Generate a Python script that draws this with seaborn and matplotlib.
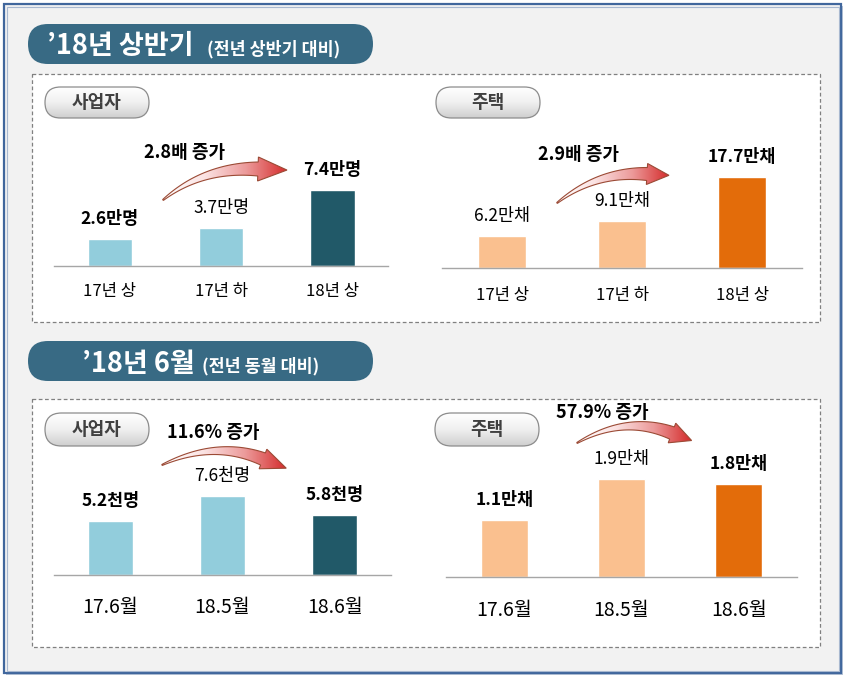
import numpy as np
import matplotlib
matplotlib.use("Agg")
import matplotlib.pyplot as plt
from matplotlib.patches import Rectangle, FancyBboxPatch, Polygon
from matplotlib.colors import LinearSegmentedColormap
import seaborn as sns

# ---------------- data ----------------
cats_half = ['17년 상', '17년 하', '18년 상']
biz_half = [2.6, 3.7, 7.4]
house_half = [6.2, 9.1, 17.7]

cats_month = ['17.6월', '18.5월', '18.6월']
biz_month = [5.2, 7.6, 5.8]
house_month = [1.1, 1.9, 1.8]

biz_half_unit = '만명'
house_half_unit = '만채'
biz_month_unit = '천명'
house_month_unit = '만채'

growth_texts = ['2.8배 증가', '2.9배 증가', '11.6% 증가', '57.9% 증가']
section_titles = ['’18년 상반기', '’18년 6월']
section_subtitles = ['(전년 상반기 대비)', '(전년 동월 대비)']
group_names = ['사업자', '주택']

# ---------------- style ----------------
sns.set_style('white')
FONT = ['Noto Sans CJK KR', 'DejaVu Sans']
plt.rcParams['font.family'] = FONT

LB, DB = '#92cddc', '#215968'
LO, DO = '#fac08f', '#e36c0a'

W, H = 847, 679
fig = plt.figure(figsize=(W / 100, H / 100), dpi=100)
fig.patch.set_facecolor('white')

def overlay(z):
    a = fig.add_axes([0, 0, 1, 1], zorder=z)
    a.set_xlim(0, W)
    a.set_ylim(H, 0)
    a.axis('off')
    a.patch.set_alpha(0)
    return a

bg = overlay(0)
fg = overlay(10)

# outer frame
bg.add_patch(Rectangle((6, 6), 837, 669, facecolor='#b9c6d8', edgecolor='none', zorder=0))
bg.add_patch(Rectangle((4, 4), 837, 669, facecolor='#f2f2f2', edgecolor='#41679d', lw=1.6, zorder=1))
bg.add_patch(Rectangle((6.5, 6.5), 832, 664, facecolor='none', edgecolor='#a9b9d0', lw=0.8, zorder=1))

# dashed boxes
for (y0, y1) in [(74, 322), (399, 647)]:
    bg.add_patch(Rectangle((32, y0), 788, y1 - y0, facecolor='white', edgecolor='#808080',
                           lw=0.9, linestyle=(0, (3, 2)), zorder=2))

# title pills
for (y0, t, s, tx, sx) in [(24, section_titles[0], section_subtitles[0], 47, 207),
                            (341, section_titles[1], section_subtitles[1], 82, 202)]:
    bg.add_patch(FancyBboxPatch((28, y0), 345, 40, boxstyle='round,pad=0,rounding_size=20',
                                facecolor='#386a84', edgecolor='none', zorder=3))
    bg.text(tx, y0 + 30.5, t, color='white', fontsize=19.5, fontweight='bold',
            ha='left', va='baseline', zorder=4)
    bg.text(sx, y0 + 30.5, s, color='white', fontsize=12.5, fontweight='bold',
            ha='left', va='baseline', zorder=4)

# group pills
pill_cmap = LinearSegmentedColormap.from_list('pill', ['#ffffff', '#f0f0f0', '#cfcfcf'])
for (x0, y0, h, name) in [(45, 87, 31, group_names[0]), (436, 87, 31, group_names[1]),
                          (45, 413, 33, group_names[0]), (435, 413, 33, group_names[1])]:
    p = FancyBboxPatch((x0, y0), 104, h, boxstyle=f'round,pad=0,rounding_size={h/2}',
                       facecolor='none', edgecolor='#8c8c8c', lw=0.9, zorder=4)
    bg.add_patch(p)
    im = bg.imshow(np.linspace(0, 1, 64)[:, None], cmap=pill_cmap, extent=(x0, x0 + 104, y0 + h, y0),
                   aspect='auto', zorder=3.5)
    im.set_clip_path(p)
    bg.text(x0 + 52, y0 + h / 2, name, color='#404040', fontsize=13, fontweight='bold',
            ha='center', va='center', zorder=5)
bg.set_xlim(0, W)
bg.set_ylim(H, 0)

# ---------------- charts ----------------
def chart(x0, x1, y_axis, y_top, ymax, cats, vals, unit, colors, bold, catsize, pad):
    ax = fig.add_axes([x0 / W, 1 - y_axis / H, (x1 - x0) / W, (y_axis - y_top) / H], zorder=5)
    ax.patch.set_alpha(0)
    sns.barplot(x=cats, y=vals, hue=cats, palette=colors, legend=False, width=0.4,
                saturation=1, ax=ax)
    ax.set_xlim(-0.5, 2.5)
    ax.set_ylim(0, ymax)
    ax.set_yticks([])
    ax.set_xlabel('')
    ax.set_ylabel('')
    for s in ['left', 'right', 'top']:
        ax.spines[s].set_visible(False)
    ax.spines['bottom'].set_color('#a6a6a6')
    ax.spines['bottom'].set_linewidth(1.0)
    ax.set_xticks(range(len(cats)))
    ax.set_xticklabels(cats)
    ax.set_xticks([-0.5, 0.5, 1.5, 2.5], minor=True)
    ax.tick_params(axis='x', which='major', length=0, pad=pad, labelsize=catsize, labelcolor='black')
    ax.tick_params(axis='x', which='minor', length=4.8, width=0.9, color='#a6a6a6', direction='out')
    for i, (v, b) in enumerate(zip(vals, bold)):
        ax.annotate(f'{v}{unit}', xy=(i, v), xytext=(0, 14.4), textcoords='offset points',
                    ha='center', va='center', fontsize=12.5,
                    fontweight='bold' if b else 'normal', color='black')
    return ax

chart(54.3, 388, 266, 140, 126 / 10.3, cats_half, biz_half, biz_half_unit,
      [LB, LB, DB], [True, False, True], 12, 12.5)
chart(442.3, 802.3, 267.7, 140, 127.7 / 5.15, cats_half, house_half, house_half_unit,
      [LO, LO, DO], [False, False, True], 12, 13.7)
chart(54.3, 390.7, 574.7, 450, 124.7 / 10.32, cats_month, biz_month, biz_month_unit,
      [LB, LB, DB], [True, False, True], 14, 16.3)
chart(445.7, 797.3, 577.3, 450, 127.3 / 51.7, cats_month, house_month, house_month_unit,
      [LO, LO, DO], [True, False, True], 14, 16.3)

# ---------------- growth arrows ----------------
arrow_cmap = LinearSegmentedColormap.from_list('arr', ['#ffffff', '#fbe3e3', '#ec9a9a', '#d42a2a'])

def grad_arrow(ax, p0, p1, p2, head_len, w_body, w_head):
    p0, p1, p2 = map(np.asarray, (p0, p1, p2))
    t = np.linspace(0, 1, 80)[:, None]
    B = (1 - t) ** 2 * p0 + 2 * (1 - t) * t * p1 + t ** 2 * p2
    dB = 2 * (1 - t) * (p1 - p0) + 2 * t * (p2 - p1)
    tang = dB / np.linalg.norm(dB, axis=1, keepdims=True)
    nrm = np.column_stack([-tang[:, 1], tang[:, 0]])
    hw = w_body / 2 * (0.08 + 0.92 * t)
    upper = B + nrm * hw
    lower = B - nrm * hw
    d, n = tang[-1], nrm[-1]
    tip = p2 + d * head_len
    pts = np.vstack([upper, p2 + n * w_head / 2, tip, p2 - n * w_head / 2, lower[::-1]])
    poly = Polygon(pts, closed=True, facecolor='none', edgecolor='#9b4a35', lw=0.8, zorder=2)
    ax.add_patch(poly)
    xmn, xmx = pts[:, 0].min(), pts[:, 0].max()
    ymn, ymx = pts[:, 1].min(), pts[:, 1].max()
    im = ax.imshow(np.linspace(0, 1, 256)[None, :], cmap=arrow_cmap, extent=(xmn, xmx, ymx, ymn),
                   aspect='auto', zorder=1)
    im.set_clip_path(poly)

grad_arrow(fg, (163, 200), (203, 167), (258, 169), 29, 14, 24)
grad_arrow(fg, (557, 203), (597, 171), (647, 174), 22, 13, 21)
grad_arrow(fg, (162, 465), (215, 440), (263, 459), 25, 13, 21)
grad_arrow(fg, (577, 443), (625, 415), (672, 433), 21, 13, 21)

for (x, y, s) in [(185, 152, growth_texts[0]), (578, 155, growth_texts[1]),
                  (213, 432, growth_texts[2]), (602, 413, growth_texts[3])]:
    fg.text(x, y, s, ha='center', va='center', fontsize=13, fontweight='bold', color='black', zorder=3)

fg.set_xlim(0, W)
fg.set_ylim(H, 0)

fig.savefig('out.png', dpi=100, facecolor='white')
